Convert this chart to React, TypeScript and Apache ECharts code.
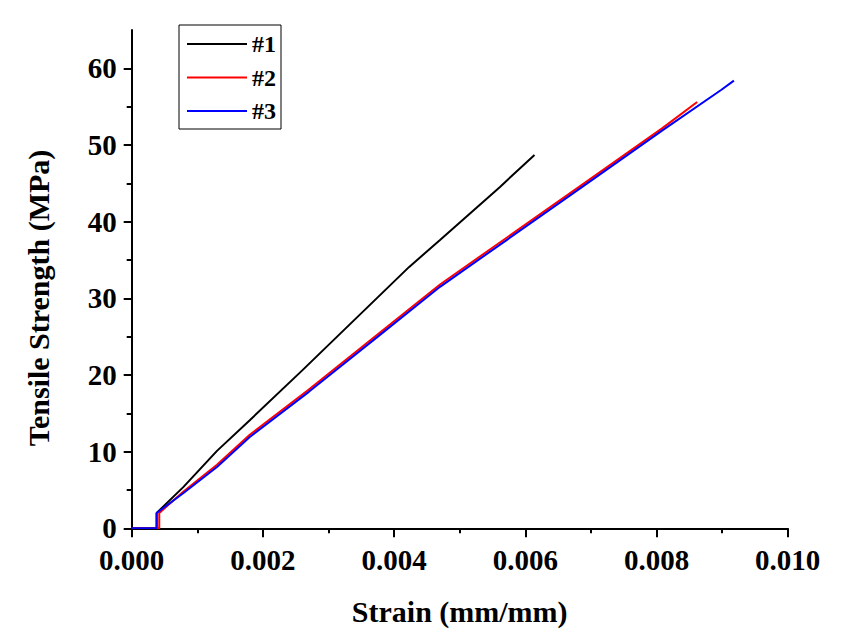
import React, { useEffect, useRef } from "react";
import * as echarts from "echarts";

// Series #1 (black)
const strain1 = [0, 0.00038, 0.00038, 0.00079, 0.0013, 0.0018, 0.0026, 0.00423, 0.0047, 0.00561, 0.00614];
const stress1 = [0, 0, 2.0, 5.4, 10.1, 14.1, 20.6, 34.1, 37.6, 44.5, 48.7];
// Series #2 (red)
const strain2 = [0, 0.00042, 0.00042, 0.00079, 0.0013, 0.0018, 0.0027, 0.00378, 0.0047, 0.00683, 0.00809, 0.00862];
const stress2 = [0, 0, 2.0, 4.8, 8.3, 12.2, 18.1, 25.5, 31.8, 44.6, 52.2, 55.6];
// Series #3 (blue)
const strain3 = [0, 0.00038, 0.00038, 0.00079, 0.0013, 0.0018, 0.0027, 0.00378, 0.0047, 0.00683, 0.00809, 0.00899, 0.00918];
const stress3 = [0, 0, 2.0, 4.6, 8.0, 11.9, 17.8, 25.2, 31.5, 44.3, 51.9, 57.2, 58.4];

const seriesNames = ["#1", "#2", "#3"];
const seriesColors = ["#000000", "#ff0000", "#0000ff"];
const yMajorTicks = [0, 10, 20, 30, 40, 50, 60];
const yMinorTicks = [5, 15, 25, 35, 45, 55];

const xTitle = "Strain (mm/mm)";
const yTitle = "Tensile Strength (MPa)";

const FONT = "'Liberation Serif', 'Times New Roman', serif";

function pairs(xs: number[], ys: number[]) {
  return xs.map((x, i) => [x, ys[i]]);
}

export default function App() {
  const ref = useRef<HTMLDivElement>(null);
  useEffect(() => {
    if (!ref.current) return;
    const chart = echarts.init(ref.current, undefined, { renderer: "svg" });
    const datasets = [pairs(strain1, stress1), pairs(strain2, stress2), pairs(strain3, stress3)];
    const axisLine = { show: true, lineStyle: { color: "#000", width: 2 } };
    chart.setOption({
      animation: false,
      backgroundColor: "#fff",
      grid: { left: 131.7, right: 73.3, top: 30, bottom: 108.7, containLabel: false },
      legend: {
        orient: "vertical",
        left: 179,
        top: 25,
        padding: [7, 5, 6, 8],
        icon: "rect",
        itemWidth: 60,
        itemHeight: 2,
        itemGap: 9.5,
        borderColor: "#000",
        borderWidth: 1,
        data: seriesNames,
        textStyle: { fontFamily: FONT, fontWeight: "bold", fontSize: 24, color: "#000", lineHeight: 24 },
      },
      xAxis: {
        type: "value",
        min: 0,
        max: 0.01,
        interval: 0.002,
        name: xTitle,
        nameLocation: "middle",
        nameGap: 68,
        nameTextStyle: { fontFamily: FONT, fontWeight: "bold", fontSize: 30, color: "#000" },
        axisLine,
        axisTick: { show: true, inside: false, length: 9, lineStyle: { color: "#000", width: 2 } },
        minorTick: { show: true, splitNumber: 2, length: 5, lineStyle: { color: "#000", width: 2 } },
        axisLabel: {
          margin: 17,
          fontFamily: FONT,
          fontWeight: "bold",
          fontSize: 29,
          color: "#000",
          formatter: (v: number) => v.toFixed(3),
        },
        splitLine: { show: false },
        minorSplitLine: { show: false },
      },
      yAxis: [
        {
          type: "value",
          min: 0,
          max: 65,
          interval: 10,
          position: "left",
          axisLine,
          axisTick: { show: true, inside: false, length: 8, customValues: yMajorTicks, lineStyle: { color: "#000", width: 2 } },
          axisLabel: {
            margin: 15,
            fontFamily: FONT,
            fontWeight: "bold",
            fontSize: 29,
            color: "#000",
            customValues: yMajorTicks,
          },
          splitLine: { show: false },
        },
        {
          type: "value",
          min: 0,
          max: 65,
          interval: 10,
          position: "left",
          offset: 0,
          axisLine: { show: false },
          axisTick: { show: true, inside: false, length: 5, customValues: yMinorTicks, lineStyle: { color: "#000", width: 2 } },
          axisLabel: { show: false },
          splitLine: { show: false },
        },
      ],
      graphic: [
        {
          type: "text",
          x: 38,
          y: 298,
          rotation: Math.PI / 2,
          style: {
            text: yTitle,
            fontFamily: FONT,
            fontWeight: "bold",
            fontSize: 30,
            fill: "#000",
            align: "center",
            verticalAlign: "middle",
          },
        },
      ],
      series: seriesNames.map((name, i) => ({
        name,
        type: "line",
        data: datasets[i],
        symbol: "none",
        yAxisIndex: 0,
        lineStyle: { color: seriesColors[i], width: 2 },
        itemStyle: { color: seriesColors[i] },
        z: 2 + i,
      })),
    });
    return () => chart.dispose();
  }, []);
  return <div ref={ref} style={{ width: 861, height: 637, margin: -8 }} />;
}
